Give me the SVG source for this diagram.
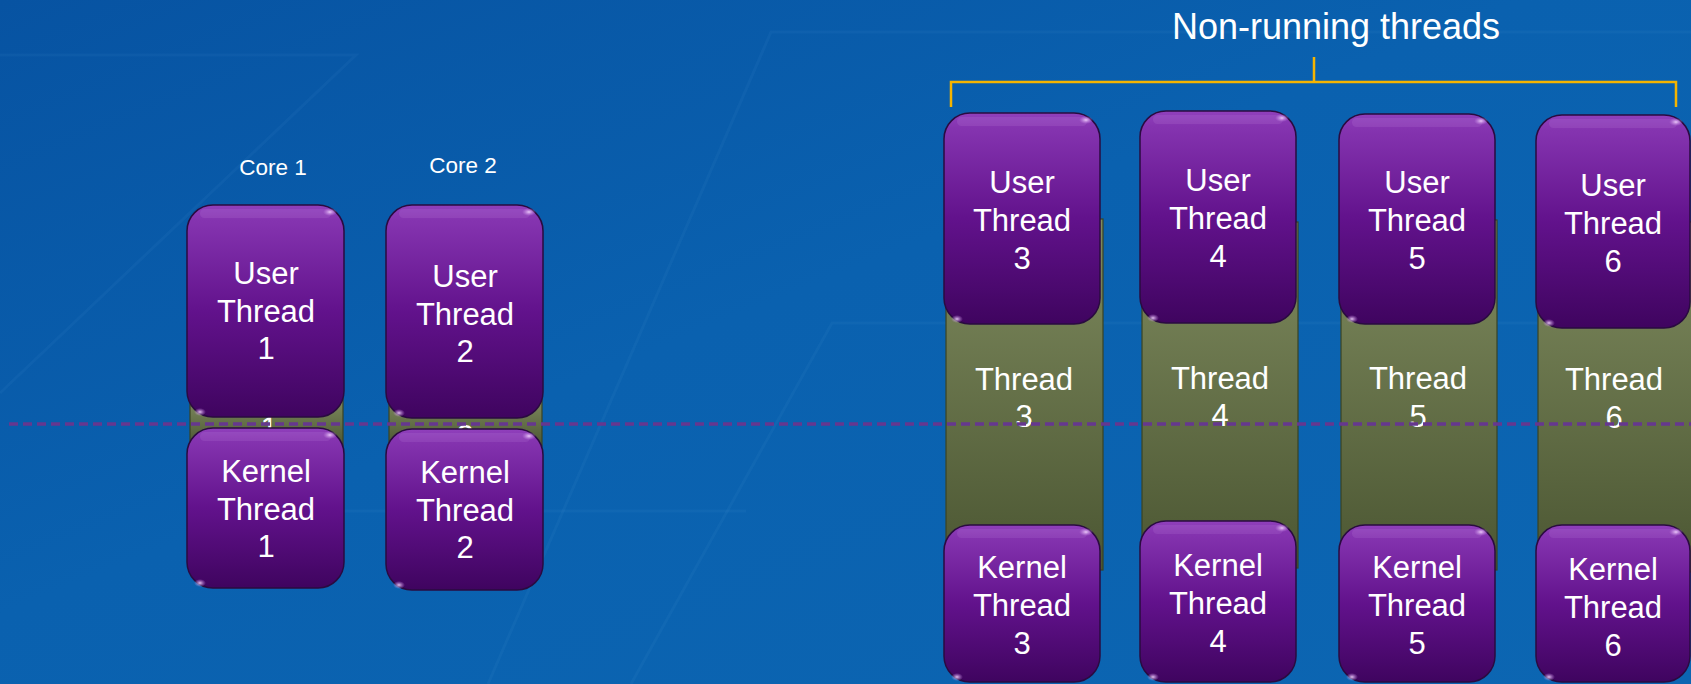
<svg xmlns="http://www.w3.org/2000/svg" width="1691" height="684" viewBox="0 0 1691 684">
<defs>
  <linearGradient id="bg" x1="0" y1="0" x2="1" y2="1">
    <stop offset="0" stop-color="#0753A2"/>
    <stop offset="0.45" stop-color="#0A61AF"/>
    <stop offset="1" stop-color="#0C66B2"/>
  </linearGradient>
  <linearGradient id="purple" x1="0" y1="0" x2="0" y2="1">
    <stop offset="0" stop-color="#9040BC"/>
    <stop offset="0.07" stop-color="#8534B0"/>
    <stop offset="0.5" stop-color="#62128C"/>
    <stop offset="1" stop-color="#3F045F"/>
  </linearGradient>
  <linearGradient id="green" x1="0" y1="0" x2="0" y2="1">
    <stop offset="0" stop-color="#7F8B5F"/>
    <stop offset="1" stop-color="#4B5632"/>
  </linearGradient>
  <radialGradient id="spec">
    <stop offset="0" stop-color="#F4D6FF" stop-opacity="0.9"/>
    <stop offset="1" stop-color="#C98CE8" stop-opacity="0"/>
  </radialGradient>
  <style>
    .box{fill:url(#purple);stroke:#2A0B40;stroke-width:1.5}
    .gr{fill:url(#green);stroke:#3A4424;stroke-width:1.2}
    .hl{fill:#E8C8FF;opacity:0.10}
    .sp{fill:url(#spec)}
    .t{font-family:"Liberation Sans",Arial,sans-serif;font-size:31px;fill:#FFFFFF;text-anchor:middle}
    .core{font-family:"Liberation Sans",Arial,sans-serif;font-size:22.5px;fill:#FFFFFF;text-anchor:middle}
    .title{font-family:"Liberation Sans",Arial,sans-serif;font-size:36px;fill:#FFFFFF;text-anchor:middle}
    .bgl{stroke:#7FB6E8;stroke-width:3;fill:none;opacity:0.06}
  </style>
</defs>

<rect width="1691" height="684" fill="url(#bg)"/>
<g id="background-lines">
  <path class="bgl" d="M0,55 H356 L0,393"/>
  <path class="bgl" d="M1691,32 H771 L488,684"/>
  <path class="bgl" d="M1691,323 H832 L631,684"/>
  <path class="bgl" d="M344,511 H746"/>
</g>

<g id="core-labels">
  <text class="core" x="273" y="175">Core 1</text>
  <text class="core" x="463" y="173">Core 2</text>
</g>

<g id="title">
  <text class="title" x="1336" y="39">Non-running threads</text>
</g>

<!-- Core 1 -->
<g id="thread1">
  <rect class="gr" x="190" y="398" width="153" height="48"/>
  <text class="t" x="269" y="439">1</text>
</g>
<g id="user-thread-1">
  <rect class="box" x="187" y="205" width="157" height="212" rx="26"/>
  <rect class="hl" x="200" y="209" width="131" height="9" rx="4.5"/>
  <ellipse class="sp" cx="330" cy="212" rx="7" ry="4"/>
  <ellipse class="sp" cx="200" cy="412" rx="6" ry="4"/>
  <text class="t" x="266" y="284">User<tspan x="266" dy="37.5">Thread</tspan><tspan x="266" dy="37.5">1</tspan></text>
</g>
<g id="kernel-thread-1">
  <rect class="box" x="187" y="428" width="157" height="160" rx="26"/>
  <rect class="hl" x="200" y="432" width="131" height="9" rx="4.5"/>
  <ellipse class="sp" cx="330" cy="435" rx="7" ry="4"/>
  <ellipse class="sp" cx="200" cy="583" rx="6" ry="4"/>
  <text class="t" x="266" y="482">Kernel<tspan x="266" dy="37.5">Thread</tspan><tspan x="266" dy="37.5">1</tspan></text>
</g>

<!-- Core 2 -->
<g id="thread2">
  <rect class="gr" x="389" y="398" width="153" height="48"/>
  <text class="t" x="465" y="447">2</text>
</g>
<g id="user-thread-2">
  <rect class="box" x="386" y="205" width="157" height="213" rx="26"/>
  <rect class="hl" x="399" y="209" width="131" height="9" rx="4.5"/>
  <ellipse class="sp" cx="529" cy="212" rx="7" ry="4"/>
  <ellipse class="sp" cx="399" cy="413" rx="6" ry="4"/>
  <text class="t" x="465" y="287">User<tspan x="465" dy="37.5">Thread</tspan><tspan x="465" dy="37.5">2</tspan></text>
</g>
<g id="kernel-thread-2">
  <rect class="box" x="386" y="429" width="157" height="161" rx="26"/>
  <rect class="hl" x="399" y="433" width="131" height="9" rx="4.5"/>
  <ellipse class="sp" cx="529" cy="436" rx="7" ry="4"/>
  <ellipse class="sp" cx="399" cy="585" rx="6" ry="4"/>
  <text class="t" x="465" y="483">Kernel<tspan x="465" dy="37.5">Thread</tspan><tspan x="465" dy="37.5">2</tspan></text>
</g>

<!-- Column 3 -->
<g id="thread3">
  <rect class="gr" x="946" y="219" width="157" height="351"/>
  <text class="t" x="1024" y="390">Thread<tspan x="1024" dy="37">3</tspan></text>
</g>
<g id="user-thread-3">
  <rect class="box" x="944" y="113" width="156" height="211" rx="26"/>
  <rect class="hl" x="957" y="117" width="130" height="9" rx="4.5"/>
  <ellipse class="sp" cx="1086" cy="120" rx="7" ry="4"/>
  <ellipse class="sp" cx="957" cy="319" rx="6" ry="4"/>
  <text class="t" x="1022" y="193">User<tspan x="1022" dy="38">Thread</tspan><tspan x="1022" dy="38">3</tspan></text>
</g>
<g id="kernel-thread-3">
  <rect class="box" x="944" y="525" width="156" height="157" rx="26"/>
  <rect class="hl" x="957" y="529" width="130" height="9" rx="4.5"/>
  <ellipse class="sp" cx="1086" cy="532" rx="7" ry="4"/>
  <ellipse class="sp" cx="957" cy="677" rx="6" ry="4"/>
  <text class="t" x="1022" y="578">Kernel<tspan x="1022" dy="38">Thread</tspan><tspan x="1022" dy="38">3</tspan></text>
</g>

<!-- Column 4 -->
<g id="thread4">
  <rect class="gr" x="1142" y="222" width="156" height="346"/>
  <text class="t" x="1220" y="389">Thread<tspan x="1220" dy="37">4</tspan></text>
</g>
<g id="user-thread-4">
  <rect class="box" x="1140" y="111" width="156" height="212" rx="26"/>
  <rect class="hl" x="1153" y="115" width="130" height="9" rx="4.5"/>
  <ellipse class="sp" cx="1282" cy="118" rx="7" ry="4"/>
  <ellipse class="sp" cx="1153" cy="318" rx="6" ry="4"/>
  <text class="t" x="1218" y="191">User<tspan x="1218" dy="38">Thread</tspan><tspan x="1218" dy="38">4</tspan></text>
</g>
<g id="kernel-thread-4">
  <rect class="box" x="1140" y="521" width="156" height="161" rx="26"/>
  <rect class="hl" x="1153" y="525" width="130" height="9" rx="4.5"/>
  <ellipse class="sp" cx="1282" cy="528" rx="7" ry="4"/>
  <ellipse class="sp" cx="1153" cy="677" rx="6" ry="4"/>
  <text class="t" x="1218" y="576">Kernel<tspan x="1218" dy="38">Thread</tspan><tspan x="1218" dy="38">4</tspan></text>
</g>

<!-- Column 5 -->
<g id="thread5">
  <rect class="gr" x="1341" y="220" width="156" height="350"/>
  <text class="t" x="1418" y="389">Thread<tspan x="1418" dy="38">5</tspan></text>
</g>
<g id="user-thread-5">
  <rect class="box" x="1339" y="114" width="156" height="210" rx="26"/>
  <rect class="hl" x="1352" y="118" width="130" height="9" rx="4.5"/>
  <ellipse class="sp" cx="1481" cy="121" rx="7" ry="4"/>
  <ellipse class="sp" cx="1352" cy="319" rx="6" ry="4"/>
  <text class="t" x="1417" y="193">User<tspan x="1417" dy="38">Thread</tspan><tspan x="1417" dy="38">5</tspan></text>
</g>
<g id="kernel-thread-5">
  <rect class="box" x="1339" y="525" width="156" height="157" rx="26"/>
  <rect class="hl" x="1352" y="529" width="130" height="9" rx="4.5"/>
  <ellipse class="sp" cx="1481" cy="532" rx="7" ry="4"/>
  <ellipse class="sp" cx="1352" cy="677" rx="6" ry="4"/>
  <text class="t" x="1417" y="578">Kernel<tspan x="1417" dy="38">Thread</tspan><tspan x="1417" dy="38">5</tspan></text>
</g>

<!-- Column 6 -->
<g id="thread6">
  <rect class="gr" x="1538" y="222" width="156" height="350"/>
  <text class="t" x="1614" y="390">Thread<tspan x="1614" dy="38">6</tspan></text>
</g>
<g id="user-thread-6">
  <rect class="box" x="1536" y="115" width="154" height="213" rx="26"/>
  <rect class="hl" x="1549" y="119" width="128" height="9" rx="4.5"/>
  <ellipse class="sp" cx="1676" cy="122" rx="7" ry="4"/>
  <ellipse class="sp" cx="1549" cy="323" rx="6" ry="4"/>
  <text class="t" x="1613" y="196">User<tspan x="1613" dy="38">Thread</tspan><tspan x="1613" dy="38">6</tspan></text>
</g>
<g id="kernel-thread-6">
  <rect class="box" x="1536" y="525" width="154" height="157" rx="26"/>
  <rect class="hl" x="1549" y="529" width="128" height="9" rx="4.5"/>
  <ellipse class="sp" cx="1676" cy="532" rx="7" ry="4"/>
  <ellipse class="sp" cx="1549" cy="677" rx="6" ry="4"/>
  <text class="t" x="1613" y="580">Kernel<tspan x="1613" dy="38">Thread</tspan><tspan x="1613" dy="38">6</tspan></text>
</g>

<g id="connectors">
  <path d="M951,107 V82 H1676 V107 M1314,57 V82" fill="none" stroke="#F5B400" stroke-width="2.5"/>
  <path d="M9,424 H1691" fill="none" stroke="#66378F" stroke-width="3.5" stroke-dasharray="9 5"/>
</g>
</svg>
